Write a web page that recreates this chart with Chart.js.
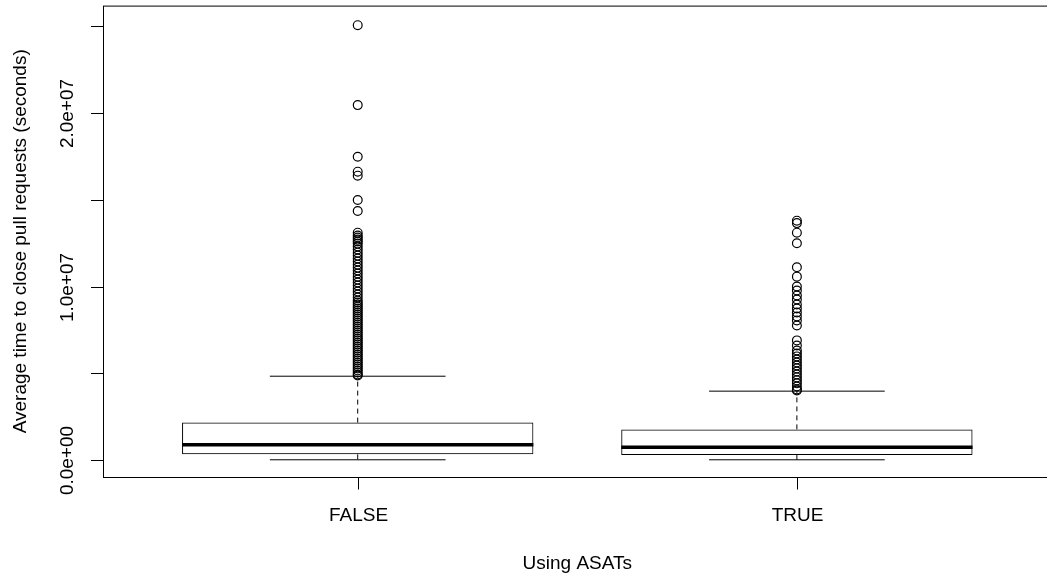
<!DOCTYPE html>
<html lang="en">
<head>
<meta charset="UTF-8">
<title>Average time to close pull requests</title>
<script src="https://cdn.jsdelivr.net/npm/chart.js@4.4.0/dist/chart.umd.min.js"></script>
<style>
  html, body { margin: 0; padding: 0; background: #fff; overflow: hidden; }
  /* a bit wider than the window: the right edge of the R frame falls off-screen */
  #wrap { width: 1060px; height: 575px; }
</style>
</head>
<body>
<div id="wrap"><canvas id="box"></canvas></div>
<script>
// ---- data ----
var categories = ["FALSE", "TRUE"];
var lowerWhisker = [0.03e6, 0.03e6];
var q1 = [0.345e6, 0.305e6];
var median = [0.90e6, 0.75e6];
var q3 = [2.17e6, 1.78e6];
var upperWhisker = [4.84e6, 3.98e6];

var outliersFalse = [
  25.04e6, 20.44e6, 17.47e6, 16.61e6, 16.38e6, 14.98e6, 14.35e6,
  13.10e6, 12.93e6, 12.82e6, 12.70e6, 12.59e6, 12.47e6, 12.30e6, 12.13e6,
  11.95e6, 11.78e6, 11.61e6, 11.44e6, 11.26e6, 11.09e6, 10.92e6, 10.75e6,
  10.57e6, 10.40e6, 10.23e6, 10.06e6, 9.89e6, 9.71e6, 9.54e6, 9.37e6,
  9.20e6, 9.08e6, 8.97e6, 8.85e6, 8.74e6, 8.62e6, 8.51e6, 8.39e6, 8.28e6,
  8.16e6, 8.05e6, 7.93e6, 7.82e6, 7.70e6, 7.59e6, 7.47e6, 7.36e6, 7.24e6,
  7.13e6, 7.01e6, 6.90e6, 6.78e6, 6.67e6, 6.55e6, 6.44e6, 6.32e6, 6.21e6,
  6.09e6, 5.98e6, 5.86e6, 5.75e6, 5.63e6, 5.52e6, 5.40e6, 5.29e6, 5.17e6,
  5.06e6, 4.94e6, 4.88e6
];
var outliersTrue = [
  13.79e6, 13.65e6, 13.10e6, 12.49e6, 11.11e6, 10.57e6, 10.00e6, 9.77e6,
  9.48e6, 9.25e6, 8.97e6, 8.74e6, 8.51e6, 8.28e6, 8.05e6, 7.76e6,
  6.90e6, 6.61e6, 6.32e6, 6.15e6, 5.98e6, 5.80e6, 5.63e6, 5.46e6,
  5.29e6, 5.11e6, 4.94e6, 4.77e6, 4.60e6, 4.43e6, 4.25e6, 4.08e6, 4.02e6
];

var yTicks = [0, 5e6, 1e7, 1.5e7, 2e7, 2.5e7];
var yTickLabels = ["0.0e+00", "", "1.0e+07", "", "2.0e+07", ""];
var xTitle = "Using ASATs";
var yTitle = "Average time to close pull requests (seconds)";

var FONT = '19px "Liberation Sans", Arial, sans-serif';
var boxHalf = 0.4;   // boxwex 0.8
var capHalf = 0.2;   // staplewex 0.5

// build line segments, null point between them breaks the line
function segments(fn) {
  var pts = [];
  categories.forEach(function (c, i) {
    fn(i + 1, i).forEach(function (p) { pts.push(p); });
    pts.push({ x: i + 1.5, y: null });
  });
  return pts;
}

var medianPts = segments(function (x, i) {
  return [{ x: x - boxHalf, y: median[i] }, { x: x + boxHalf, y: median[i] }];
});
var capPts = segments(function (x, i) {
  return [{ x: x - capHalf, y: upperWhisker[i] }, { x: x + capHalf, y: upperWhisker[i] },
          { x: x, y: null },
          { x: x - capHalf, y: lowerWhisker[i] }, { x: x + capHalf, y: lowerWhisker[i] }];
});
var whiskerPts = segments(function (x, i) {
  return [{ x: x, y: q3[i] }, { x: x, y: upperWhisker[i] },
          { x: x, y: null },
          { x: x, y: q1[i] }, { x: x, y: lowerWhisker[i] }];
});
var outlierPts = [];
outliersFalse.forEach(function (v) { outlierPts.push({ x: 1, y: v }); });
outliersTrue.forEach(function (v) { outlierPts.push({ x: 2, y: v }); });

// R-style axes, frame and titles
var rAxes = {
  id: 'rAxes',
  afterDraw: function (chart) {
    var ctx = chart.ctx, a = chart.chartArea;
    var xs = chart.scales.x, ys = chart.scales.y;
    ctx.save();
    ctx.strokeStyle = '#000';
    ctx.fillStyle = '#000';
    ctx.lineWidth = 1;
    ctx.setLineDash([]);
    ctx.strokeRect(a.left + 0.5, a.top + 0.5, a.right - a.left, a.bottom - a.top);

    ctx.font = FONT;
    // y axis
    yTicks.forEach(function (v, i) {
      var py = Math.round(ys.getPixelForValue(v)) + 0.5;
      ctx.beginPath();
      ctx.moveTo(a.left + 0.5, py);
      ctx.lineTo(a.left - 12, py);
      ctx.stroke();
      if (yTickLabels[i]) {
        ctx.save();
        ctx.translate(73, py);
        ctx.rotate(-Math.PI / 2);
        ctx.textAlign = 'center';
        ctx.textBaseline = 'alphabetic';
        ctx.fillText(yTickLabels[i], 0, 0);
        ctx.restore();
      }
    });
    ctx.save();
    ctx.translate(25.5, (a.top + a.bottom) / 2);
    ctx.rotate(-Math.PI / 2);
    ctx.textAlign = 'center';
    ctx.textBaseline = 'alphabetic';
    ctx.fillText(yTitle, 0, 0);
    ctx.restore();

    // x axis
    ctx.textAlign = 'center';
    ctx.textBaseline = 'alphabetic';
    categories.forEach(function (c, i) {
      var px = Math.round(xs.getPixelForValue(i + 1)) + 0.5;
      ctx.beginPath();
      ctx.moveTo(px, a.bottom + 0.5);
      ctx.lineTo(px, a.bottom + 12.5);
      ctx.stroke();
      ctx.fillText(c, px, 521);
    });
    ctx.fillText(xTitle, (a.left + a.right) / 2, 569);
    ctx.restore();
  }
};

new Chart(document.getElementById('box'), {
  type: 'bar',
  data: {
    datasets: [
      {
        type: 'scatter',
        data: outlierPts,
        pointStyle: 'circle',
        pointRadius: 4.4,
        borderWidth: 1.2,
        borderColor: '#000',
        backgroundColor: 'rgba(0,0,0,0)'
      },
      {
        type: 'line',
        data: medianPts,
        borderColor: '#000',
        borderWidth: 3.5,
        borderCapStyle: 'butt',
        pointRadius: 0,
        fill: false,
        spanGaps: false
      },
      {
        type: 'line',
        data: capPts,
        borderColor: '#000',
        borderWidth: 1,
        pointRadius: 0,
        fill: false,
        spanGaps: false
      },
      {
        type: 'line',
        data: whiskerPts,
        borderColor: '#000',
        borderWidth: 1,
        borderDash: [5, 4],
        pointRadius: 0,
        fill: false,
        spanGaps: false
      },
      {
        type: 'bar',
        data: categories.map(function (c, i) { return { x: i + 1, y: [q1[i], q3[i]] }; }),
        backgroundColor: 'rgba(0,0,0,0)',
        borderColor: '#000',
        borderWidth: 1,
        borderSkipped: false,
        categoryPercentage: 0.8,
        barPercentage: 1
      }
    ]
  },
  options: {
    responsive: true,
    maintainAspectRatio: false,
    animation: false,
    events: [],
    layout: { padding: { left: 103, top: 5, right: 8.4, bottom: 98 } },
    plugins: { legend: { display: false }, tooltip: { enabled: false } },
    scales: {
      x: {
        type: 'linear', display: false, offset: false,
        min: 0.42, max: 2.58,
        afterBuildTicks: function (scale) {
          scale.ticks = categories.map(function (c, i) { return { value: i + 1 }; });
        }
      },
      y: {
        type: 'linear', display: false, beginAtZero: false,
        min: -0.96e6, max: 26.166e6
      }
    }
  },
  plugins: [rAxes]
});
</script>
</body>
</html>
